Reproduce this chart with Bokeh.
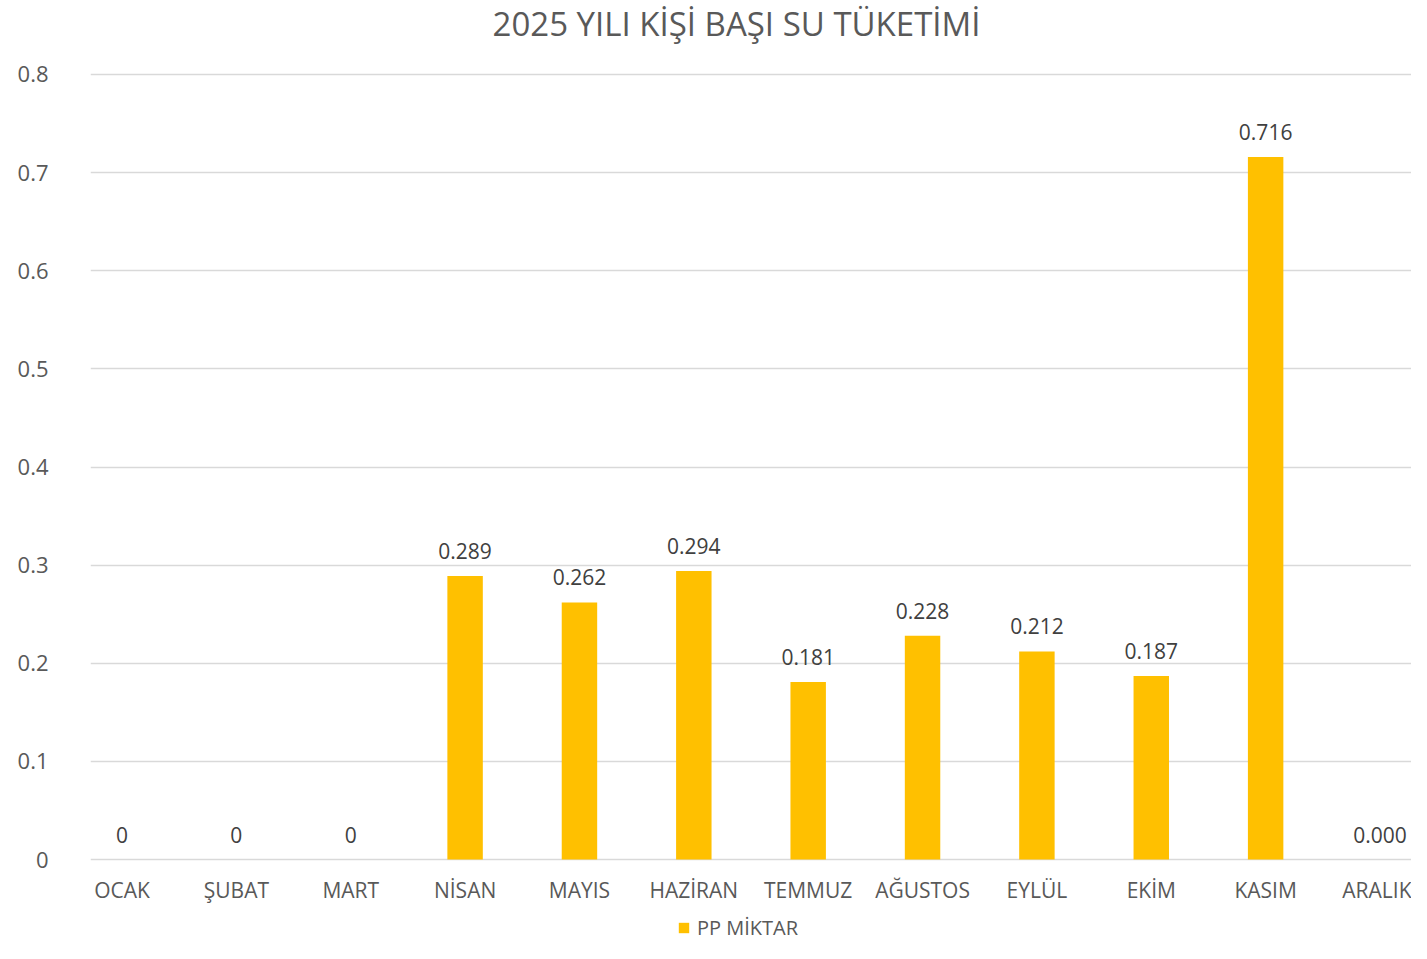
from bokeh.plotting import figure
from bokeh.models import (ColumnDataSource, Range1d, FixedTicker, LabelSet, Legend,
                          LegendItem, Label, FactorRange)
from bokeh.layouts import column
from bokeh.core.properties import value
from bokeh.embed import file_html
from bokeh.resources import INLINE

title_text = "2025 YILI KİŞİ BAŞI SU TÜKETİMİ"
series_name = "PP MİKTAR"
months = ["OCAK", "ŞUBAT", "MART", "NİSAN", "MAYIS", "HAZİRAN", "TEMMUZ",
          "AĞUSTOS", "EYLÜL", "EKİM", "KASIM", "ARALIK"]
values = [0, 0, 0, 0.289, 0.262, 0.294, 0.181, 0.228, 0.212, 0.187, 0.716, 0.000]
value_labels = ["0", "0", "0", "0.289", "0.262", "0.294", "0.181", "0.228",
                "0.212", "0.187", "0.716", "0.000"]
y_ticks = [0, 0.1, 0.2, 0.3, 0.4, 0.5, 0.6, 0.7, 0.8]
y_tick_labels = ["0", "0.1", "0.2", "0.3", "0.4", "0.5", "0.6", "0.7", "0.8"]

FONT = "Open Sans"
TXT = "#595959"
BAR = "#FFC000"
W = 1411
LEFT = 90

src = ColumnDataSource(dict(month=months, value=values, label=value_labels))


def strip(h):
    f = figure(width=W, height=h, output_backend="svg", toolbar_location=None,
               x_range=Range1d(LEFT, W), y_range=Range1d(0, h),
               min_border=0, min_border_left=LEFT, min_border_right=0,
               min_border_top=0, min_border_bottom=0)
    f.outline_line_color = None
    f.axis.visible = False
    f.grid.visible = False
    f.background_fill_color = "white"
    f.border_fill_color = "white"
    return f


# title strip
p0 = strip(48)
p0.add_layout(Label(x=736, y=25, text=title_text, text_align="center",
                    text_baseline="middle", text_font=FONT, text_font_size="33px",
                    text_color=TXT))

# main chart
xr = FactorRange(factors=months, range_padding=-0.2245, range_padding_units="absolute")
p = figure(x_range=xr, y_range=Range1d(-0.002, 0.802),
           width=W, height=858, output_backend="svg", toolbar_location=None,
           min_border_left=LEFT, min_border_right=0, min_border_top=24, min_border_bottom=44)
p.outline_line_color = None
p.background_fill_color = "white"
p.border_fill_color = "white"

xa = p.xaxis[0]
ya = p.yaxis[0]

r = p.vbar(x="month", top="value", width=0.31, source=src,
           fill_color=BAR, line_color=None)

labels = LabelSet(x="month", y="value", text="label", source=src,
                  text_align="center", text_baseline="middle", y_offset=25,
                  text_font=value(FONT), text_font_size=value("21px"),
                  text_color="#404040")
p.add_layout(labels)

p.xgrid.grid_line_color = None
p.ygrid.grid_line_color = "#D9D9D9"
p.ygrid.grid_line_width = 1.5
ya.ticker = FixedTicker(ticks=y_ticks)
ya.major_label_overrides = {t: l for t, l in zip(y_ticks, y_tick_labels)}

for ax in (xa, ya):
    ax.axis_line_color = None
    ax.major_tick_line_color = None
    ax.minor_tick_line_color = None
    ax.major_tick_out = 0
    ax.major_tick_in = 0
    ax.minor_tick_out = 0
    ax.minor_tick_in = 0
    ax.major_label_text_font = FONT
    ax.major_label_text_color = TXT
xa.major_label_text_font_size = "21px"
ya.major_label_text_font_size = "22px"
ya.major_label_standoff = LEFT - 48
xa.major_label_standoff = 14

# legend strip (same bar series, drawn outside its visible range as a swatch source)
p2 = figure(width=W, height=37, output_backend="svg", toolbar_location=None,
            x_range=FactorRange(factors=months), y_range=Range1d(5, 6),
            min_border=0, min_border_left=LEFT, min_border_right=0,
            min_border_top=0, min_border_bottom=0)
p2.outline_line_color = None
p2.axis.visible = False
p2.grid.visible = False
swatch = p2.vbar(x="month", top="value", width=0.31, source=src,
                 fill_color=BAR, line_color=None)

legend = Legend(items=[LegendItem(label=series_name, renderers=[swatch])],
                location=(677 - LEFT, 2), orientation="horizontal",
                padding=0, margin=0, border_line_color=None,
                background_fill_alpha=0, glyph_width=13, glyph_height=13,
                label_standoff=7, label_text_font=FONT,
                label_text_font_size="20px", label_text_color=TXT)
p2.add_layout(legend, "center")

layout = column(p0, p, p2, spacing=0)
open("out.html", "w").write(file_html(layout, INLINE))
